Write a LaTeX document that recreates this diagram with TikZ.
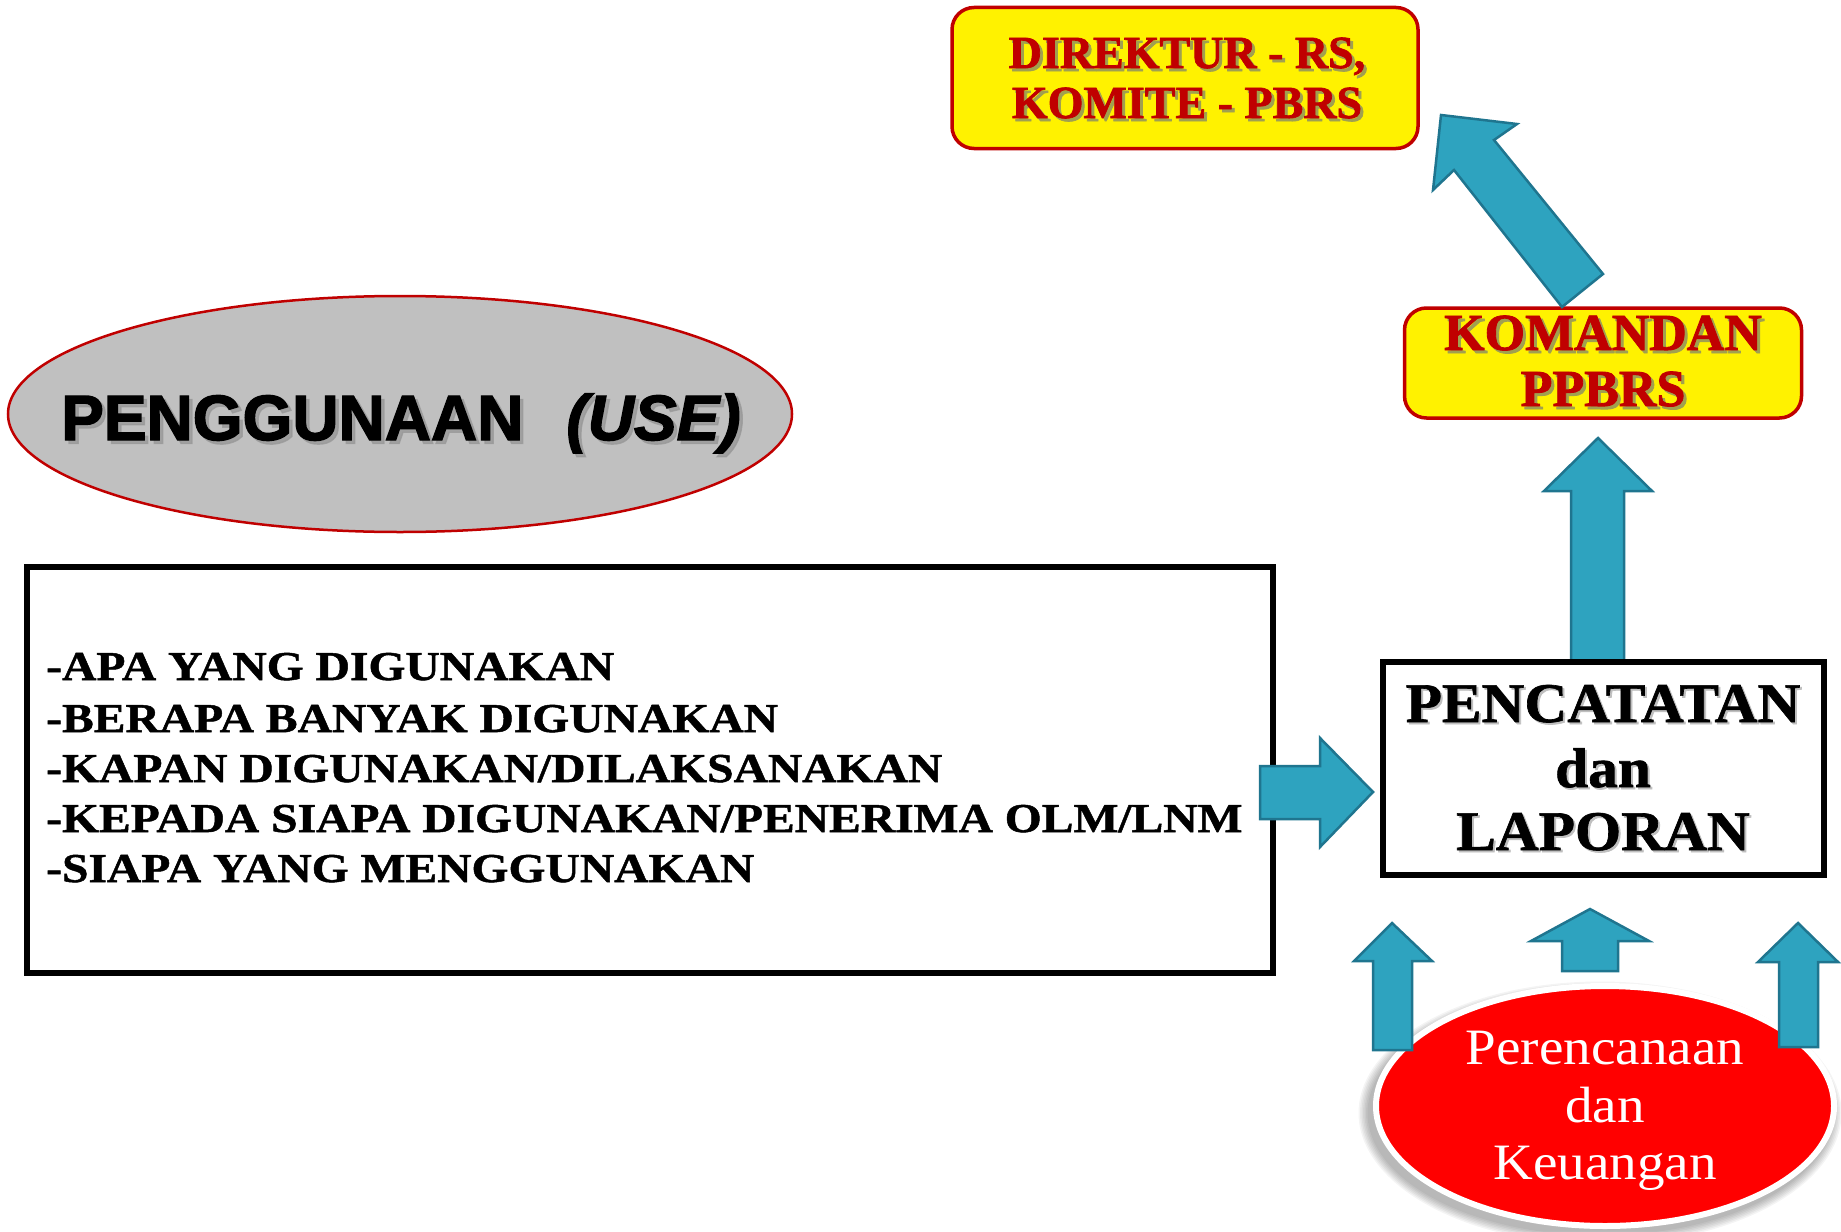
\documentclass[tikz,border=0pt]{standalone}
\usepackage{fontspec}
\setmainfont{Liberation Serif}
\newfontfamily\listfont[FakeStretch=1.16,FakeBold=1.2]{Liberation Serif}
\newfontfamily\pcfont[FakeStretch=1.06,FakeBold=1.2]{Liberation Serif}
\newfontfamily\redfont[FakeBold=1.6]{Liberation Serif}
\newfontfamily\elfont[FakeStretch=1.08]{Liberation Serif}
\newfontfamily\headfont[FakeBold=2.2]{Liberation Sans}
\usetikzlibrary{shapes.geometric}
\definecolor{darkred}{RGB}{192,0,0}
\definecolor{tealfill}{RGB}{46,163,191}
\definecolor{tealline}{RGB}{31,117,143}
\definecolor{shadowol}{RGB}{160,160,80}
\definecolor{graybg}{RGB}{192,192,192}
\begin{document}
\begin{tikzpicture}[x=1pt,y=-1pt,
  blockarrow/.style={fill=tealfill,draw=tealline,line width=2.5pt,line join=miter},
  ybox/.style={draw=darkred,fill=yellow,line width=3.5pt,rounded corners=22pt,inner sep=0pt},
  blackbox/.style={draw=black,line width=6.5pt,fill=white},
  dirtxt/.style={inner sep=0pt,anchor=base,font=\redfont\bfseries\fontsize{46pt}{50pt}\selectfont},
  komtxt/.style={inner sep=0pt,anchor=base,font=\redfont\bfseries\fontsize{52pt}{56pt}\selectfont},
  listtxt/.style={inner sep=0pt,anchor=base west,font=\listfont\bfseries\fontsize{41pt}{50pt}\selectfont},
  pctxt/.style={inner sep=0pt,anchor=base,font=\pcfont\bfseries\fontsize{56pt}{64pt}\selectfont},
  eltxt/.style={inner sep=0pt,anchor=base,text=white,font=\elfont\fontsize{51pt}{57pt}\selectfont},
  headtxt/.style={inner sep=0pt,anchor=base west,font=\headfont\bfseries\fontsize{64pt}{70pt}\selectfont}
]
\useasboundingbox[fill=white] (0,0) rectangle (1841,1231);

% ---------- Direktur box ----------
\node[ybox, minimum width=466pt, minimum height=141pt] (dir) at (1185,78) {};
\node[dirtxt, text=shadowol] (dirAs) at (1190,71) {DIREKTUR - RS,};
\node[dirtxt, text=darkred] (dirA) at (1187,68) {DIREKTUR - RS,};
\node[dirtxt, text=shadowol] (dirBs) at (1190,121) {KOMITE - PBRS};
\node[dirtxt, text=darkred] (dirB) at (1187,118) {KOMITE - PBRS};

% ---------- Komandan box ----------
\node[ybox, minimum width=397pt, minimum height=110pt] (kom) at (1603,363) {};
\node[komtxt, text=shadowol] (komAs) at (1606,353) {KOMANDAN};
\node[komtxt, text=darkred] (komA) at (1603,350) {KOMANDAN};
\node[komtxt, text=shadowol] (komBs) at (1606,409) {PPBRS};
\node[komtxt, text=darkred] (komB) at (1603,406) {PPBRS};

% ---------- diagonal arrow Komandan -> Direktur ----------
\draw[blockarrow] (1441,115) -- (1517,124) -- (1494,140) -- (1603,274)
  -- (1562,307) -- (1454,170) -- (1433,190) -- cycle;

% ---------- vertical arrow Pencatatan -> Komandan ----------
\draw[blockarrow] (1571,663) -- (1571,491) -- (1544,491) -- (1598,438)
  -- (1652,491) -- (1624,491) -- (1624,663) -- cycle;

% ---------- gray ellipse ----------
\node[ellipse, fill=graybg, draw=darkred, line width=2.5pt,
      minimum width=784pt, minimum height=236pt] (use) at (400,414) {};
\node[headtxt, text=black!40, opacity=0.8] (headS) at (64.5,443.5)
  {PENGGUNAAN\hspace*{43pt}\textit{(USE)}};
\node[headtxt, text=black] (head) at (61,440)
  {PENGGUNAAN\hspace*{43pt}\textit{(USE)}};

% ---------- list box ----------
\draw[blackbox] (27,567) rectangle (1273,973);
\coordinate (listbox) at (650,770);
\node[listtxt] (l1) at (46,680) {-APA YANG DIGUNAKAN};
\node[listtxt] (l2) at (46,732) {-BERAPA BANYAK DIGUNAKAN};
\node[listtxt] (l3) at (46,782) {-KAPAN DIGUNAKAN/DILAKSANAKAN};
\node[listtxt] (l4) at (46,832) {-KEPADA SIAPA DIGUNAKAN/PENERIMA OLM/LNM};
\node[listtxt] (l5) at (46,882) {-SIAPA YANG MENGGUNAKAN};

% ---------- right arrow list -> Pencatatan ----------
\draw[blockarrow] (1260,766) -- (1320,766) -- (1320,738) -- (1373,792)
  -- (1320,847) -- (1320,819) -- (1260,819) -- cycle;

% ---------- Pencatatan box ----------
\draw[blackbox] (1383,662) rectangle (1824,875);
\coordinate (pcbox) at (1603,768);
\node[pctxt, text=black!25] (pcAs) at (1605,724) {PENCATATAN};
\node[pctxt] (pcA) at (1603,722) {PENCATATAN};
\node[pctxt, text=black!25] (pcBs) at (1605,789) {dan};
\node[pctxt] (pcB) at (1603,787) {dan};
\node[pctxt, text=black!25] (pcCs) at (1605,852) {LAPORAN};
\node[pctxt] (pcC) at (1603,850) {LAPORAN};

% ---------- red ellipse with shadow ----------
\foreach \i in {1,...,7}{
  \fill[black,opacity=0.045] (1600,1113) ellipse [x radius=231+1.5*\i, y radius=121+1.5*\i];
}
\node[ellipse, fill=red, draw=white, line width=6pt,
      minimum width=458pt, minimum height=240pt] (pk) at (1605,1106) {};
\node[eltxt] (pkA) at (1605,1064) {Perencanaan};
\node[eltxt] (pkB) at (1605,1122) {dan};
\node[eltxt] (pkC) at (1605,1179) {Keuangan};

% ---------- small up arrows ----------
\draw[blockarrow] (1373,1050) -- (1373,961) -- (1354,961) -- (1392,923)
  -- (1432,961) -- (1412,961) -- (1412,1050) -- cycle;
\draw[blockarrow] (1562,971) -- (1562,941) -- (1531,941) -- (1590,909)
  -- (1649,941) -- (1618,941) -- (1618,971) -- cycle;
\draw[blockarrow] (1779,1047) -- (1779,962) -- (1758,962) -- (1798,923)
  -- (1838,962) -- (1818,962) -- (1818,1047) -- cycle;
\end{tikzpicture}
\end{document}
